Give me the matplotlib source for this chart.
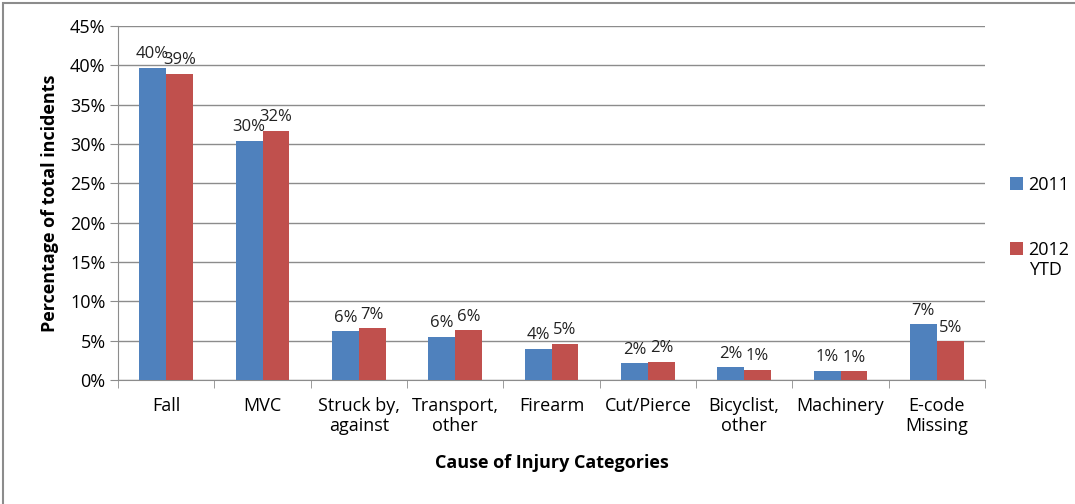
import matplotlib

matplotlib.use("Agg")
import matplotlib.pyplot as plt
import numpy as np
from matplotlib.patches import Rectangle
from matplotlib.ticker import FuncFormatter, MultipleLocator

categories = ["Fall", "MVC", "Struck by,\nagainst", "Transport,\nother", "Firearm",
              "Cut/Pierce", "Bicyclist,\nother", "Machinery", "E-code\nMissing"]
vals_2011 = [39.7, 30.4, 6.2, 5.5, 4.0, 2.1, 1.6, 1.2, 7.1]
vals_2012 = [38.9, 31.7, 6.6, 6.3, 4.6, 2.3, 1.3, 1.1, 4.9]
series_names = ["2011", "2012"]
series_note = "YTD"

BLUE = "#4F81BD"
RED = "#C0504D"
GRID = "#8c8c8c"

plt.rcParams["font.family"] = ["Open Sans", "DejaVu Sans"]

fig = plt.figure(figsize=(10.75, 5.04), dpi=100)
ax = fig.add_axes([118 / 1075, 1 - 380 / 504, 867 / 1075, 354 / 504])

x = np.arange(len(categories))
w = 0.28
b1 = ax.bar(x - w / 2, vals_2011, w, color=BLUE, label=series_names[0], zorder=3)
b2 = ax.bar(x + w / 2, vals_2012, w, color=RED, label=series_names[1], zorder=3)

fmt = lambda v: f"{round(v):d}%"
ax.bar_label(b1, labels=[fmt(v) for v in vals_2011], padding=4, fontsize=12, color="#222222")
ax.bar_label(b2, labels=[fmt(v) for v in vals_2012], padding=4, fontsize=12, color="#222222")

ax.set_xlim(-0.5, len(categories) - 0.5)
ax.set_ylim(0, 45)
ax.yaxis.set_major_locator(MultipleLocator(5))
ax.yaxis.set_major_formatter(FuncFormatter(lambda v, p: f"{v:.0f}%"))
ax.grid(axis="y", color=GRID, linewidth=1, zorder=0)

ax.set_xticks(x)
ax.set_xticklabels(categories, fontsize=13, linespacing=1.15)
ax.tick_params(axis="x", length=0, pad=12)
ax.set_xticks(np.arange(len(categories) + 1) - 0.5, minor=True)
ax.tick_params(axis="x", which="minor", length=6, color=GRID)
ax.tick_params(axis="y", labelsize=13, length=6, color=GRID, pad=3)

for s in ["top", "right"]:
    ax.spines[s].set_visible(False)
for s in ["left", "bottom"]:
    ax.spines[s].set_color(GRID)

ax.set_ylabel("Percentage of total incidents", fontsize=13, fontweight="bold", labelpad=8)
ax.set_xlabel("Cause of Injury Categories", fontsize=13, fontweight="bold", labelpad=14)

leg = ax.legend(loc="center left", bbox_to_anchor=(1.01, 0.46), frameon=False, fontsize=13,
                handlelength=0.7, handleheight=0.7, handletextpad=0.3, labelspacing=2.6)
ytd = ax.annotate(series_note, xy=(0, 0), xycoords=leg.get_texts()[1], xytext=(1, -2),
                  textcoords="offset points", ha="left", va="top", fontsize=13,
                  annotation_clip=False)
ytd.set_zorder(10)

fig.patches.append(Rectangle((3 / 1075, -0.1), 1.2, 1.1 - 3 / 504, transform=fig.transFigure,
                             fill=False, edgecolor=GRID, linewidth=1.5))

fig.savefig("out.png", dpi=100)
